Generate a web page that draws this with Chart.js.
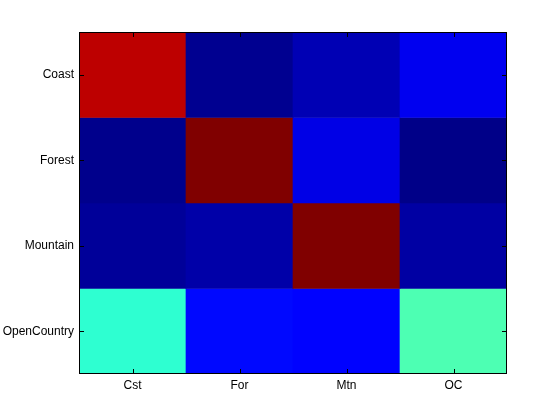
<!DOCTYPE html>
<html>
<head>
<meta charset="utf-8">
<script src="https://cdn.jsdelivr.net/npm/chart.js@4"></script>
<style>
html,body{margin:0;padding:0;background:#fff;}
#wrap{width:560px;height:420px;}
</style>
</head>
<body>
<div id="wrap"><canvas id="c" width="560" height="420"></canvas></div>
<script>
// Categories
const colLabels = ['Cst', 'For', 'Mtn', 'OC'];
const rowLabels = ['Coast', 'Forest', 'Mountain', 'OpenCountry'];
// Cell values (jet colormap scale 0..1), one array per row
const coastRow       = [0.94, 0.016, 0.051, 0.11];
const forestRow      = [0.012, 1.00, 0.10, 0.008];
const mountainRow    = [0.025, 0.04, 1.00, 0.035];
const openCountryRow = [0.42, 0.133, 0.127, 0.45];
const matrix = [coastRow, forestRow, mountainRow, openCountryRow];
const rowTicks = [0.5, 1.5, 2.5, 3.5];

function jet(v) {
  function ch(x) { return Math.max(0, Math.min(1, x)); }
  const r = ch(Math.min(4 * v - 1.5, -4 * v + 4.5));
  const g = ch(Math.min(4 * v - 0.5, -4 * v + 3.5));
  const b = ch(Math.min(4 * v + 0.5, -4 * v + 2.5));
  return 'rgb(' + Math.round(r * 255) + ',' + Math.round(g * 255) + ',' + Math.round(b * 255) + ')';
}

const datasets = matrix.map((row, i) => ({
  label: rowLabels[i],
  data: row.map(() => 1),
  backgroundColor: row.map(v => jet(v)),
  borderWidth: 0,
  barPercentage: 1.0,
  categoryPercentage: 1.0,
  stack: 's'
}));

const frameTicks = {
  id: 'frameTicks',
  afterDraw(chart) {
    const ctx = chart.ctx;
    const a = chart.chartArea;
    const xs = chart.scales.x, ys = chart.scales.y;
    ctx.save();
    ctx.strokeStyle = '#000';
    ctx.lineWidth = 1;
    ctx.beginPath();
    const L = 5;
    xs.ticks.forEach((t, i) => {
      const x = Math.round(xs.getPixelForTick(i)) + 0.5;
      ctx.moveTo(x, a.bottom); ctx.lineTo(x, a.bottom - L);
      ctx.moveTo(x, a.top); ctx.lineTo(x, a.top + L);
    });
    ys.ticks.forEach((t, i) => {
      const y = Math.round(ys.getPixelForTick(i)) + 0.5;
      ctx.moveTo(a.left, y); ctx.lineTo(a.left + L, y);
      ctx.moveTo(a.right, y); ctx.lineTo(a.right - L, y);
    });
    ctx.stroke();
    ctx.strokeRect(Math.round(a.left) + 0.5, Math.round(a.top) + 0.5, Math.round(a.right - a.left) - 1, Math.round(a.bottom - a.top) - 1);
    ctx.restore();
  }
};

new Chart(document.getElementById('c'), {
  type: 'bar',
  data: { labels: colLabels, datasets: datasets },
  options: {
    responsive: false,
    animation: false,
    devicePixelRatio: 1,
    layout: { padding: { top: 32, right: 53, left: 0, bottom: 0 } },
    plugins: { legend: { display: false }, tooltip: { enabled: false } },
    scales: {
      x: {
        stacked: true,
        grid: { display: false, drawTicks: false, tickLength: 0 },
        border: { display: false },
        ticks: { color: '#000', font: { family: 'Liberation Sans', size: 12 }, padding: 4, maxRotation: 0 },
        afterFit(s) { s.height = 46; }
      },
      y: {
        stacked: true,
        min: 0, max: 4,
        reverse: true,
        grid: { display: false, drawTicks: false, tickLength: 0 },
        border: { display: false },
        afterBuildTicks(s) { s.ticks = rowTicks.map(v => ({ value: v })); },
        ticks: {
          color: '#000',
          font: { family: 'Liberation Sans', size: 12 },
          padding: 5,
          callback: (v) => rowLabels[Math.floor(v)]
        },
        afterFit(s) { s.width = 79; }
      }
    }
  },
  plugins: [frameTicks]
});
</script>
</body>
</html>
